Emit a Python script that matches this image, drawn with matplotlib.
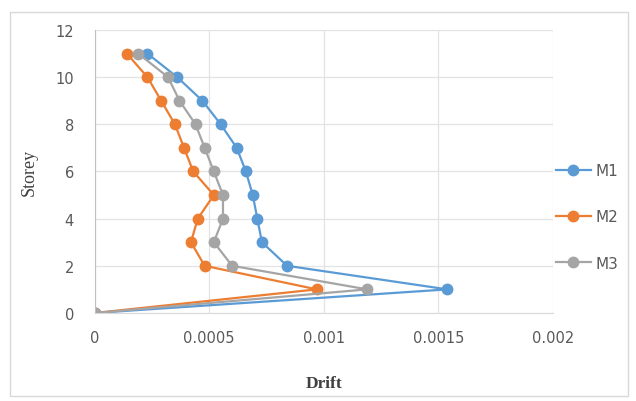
import matplotlib.pyplot as plt
from matplotlib.patches import Rectangle

# storey levels and drift values per model
storey = [0, 1, 2, 3, 4, 5, 6, 7, 8, 9, 10, 11]
m1 = [0, 0.00154, 0.00084, 0.00073, 0.00071, 0.00069, 0.00066, 0.00062, 0.00055, 0.00047, 0.00036, 0.00023]
m2 = [0, 0.00097, 0.00048, 0.00042, 0.00045, 0.00052, 0.00043, 0.00039, 0.00035, 0.00029, 0.00023, 0.00014]
m3 = [0, 0.00119, 0.00060, 0.00052, 0.00056, 0.00056, 0.00052, 0.00048, 0.00044, 0.00037, 0.00032, 0.00019]

x_ticks = [0, 0.0005, 0.001, 0.0015, 0.002]
x_labels = ["0", "0.0005", "0.001", "0.0015", "0.002"]
y_ticks = [0, 2, 4, 6, 8, 10, 12]

fig = plt.figure(figsize=(6.36, 4.02), dpi=100)
fig.patches.append(Rectangle((0.015, 0.012), 0.972, 0.955, transform=fig.transFigure,
                             fill=False, edgecolor="#d9d9d9", lw=1))
ax = fig.add_axes([0.149, 0.219, 0.72, 0.704])

ax.plot(m1, storey, '-o', color="#5B9BD5", lw=1.6, ms=7.5, label="M1")
ax.plot(m2, storey, '-o', color="#ED7D31", lw=1.6, ms=7.5, label="M2")
ax.plot(m3, storey, '-o', color="#A5A5A5", lw=1.6, ms=7.5, label="M3")

ax.set_xlim(0, 0.002)
ax.set_ylim(0, 12)
ax.set_xticks(x_ticks)
ax.set_xticklabels(x_labels)
ax.set_yticks(y_ticks)
ax.grid(True, color="#e3e3e3", lw=0.9)
ax.set_axisbelow(True)
for s in ["top", "right"]:
    ax.spines[s].set_visible(False)
ax.spines["left"].set_color("#bfbfbf")
ax.spines["bottom"].set_color("#d9d9d9")
ax.tick_params(length=0, colors="#595959", labelsize=10.5)
ax.tick_params(axis="x", pad=12)
ax.tick_params(axis="y", pad=15)

ax.set_xlabel("Drift", fontfamily="Liberation Serif", fontweight="bold", fontsize=12.5, color="#404040", labelpad=22)
ax.set_ylabel("Storey", fontfamily="Liberation Serif", fontsize=13, color="#404040", labelpad=13)

fig.legend(loc="center left", bbox_to_anchor=(0.874, 0.458), frameon=False,
           borderpad=0, borderaxespad=0, labelspacing=2.05, handlelength=2.3,
           handletextpad=0.3, labelcolor="#595959", prop={"size": 11})

plt.savefig("out.png", dpi=100)
